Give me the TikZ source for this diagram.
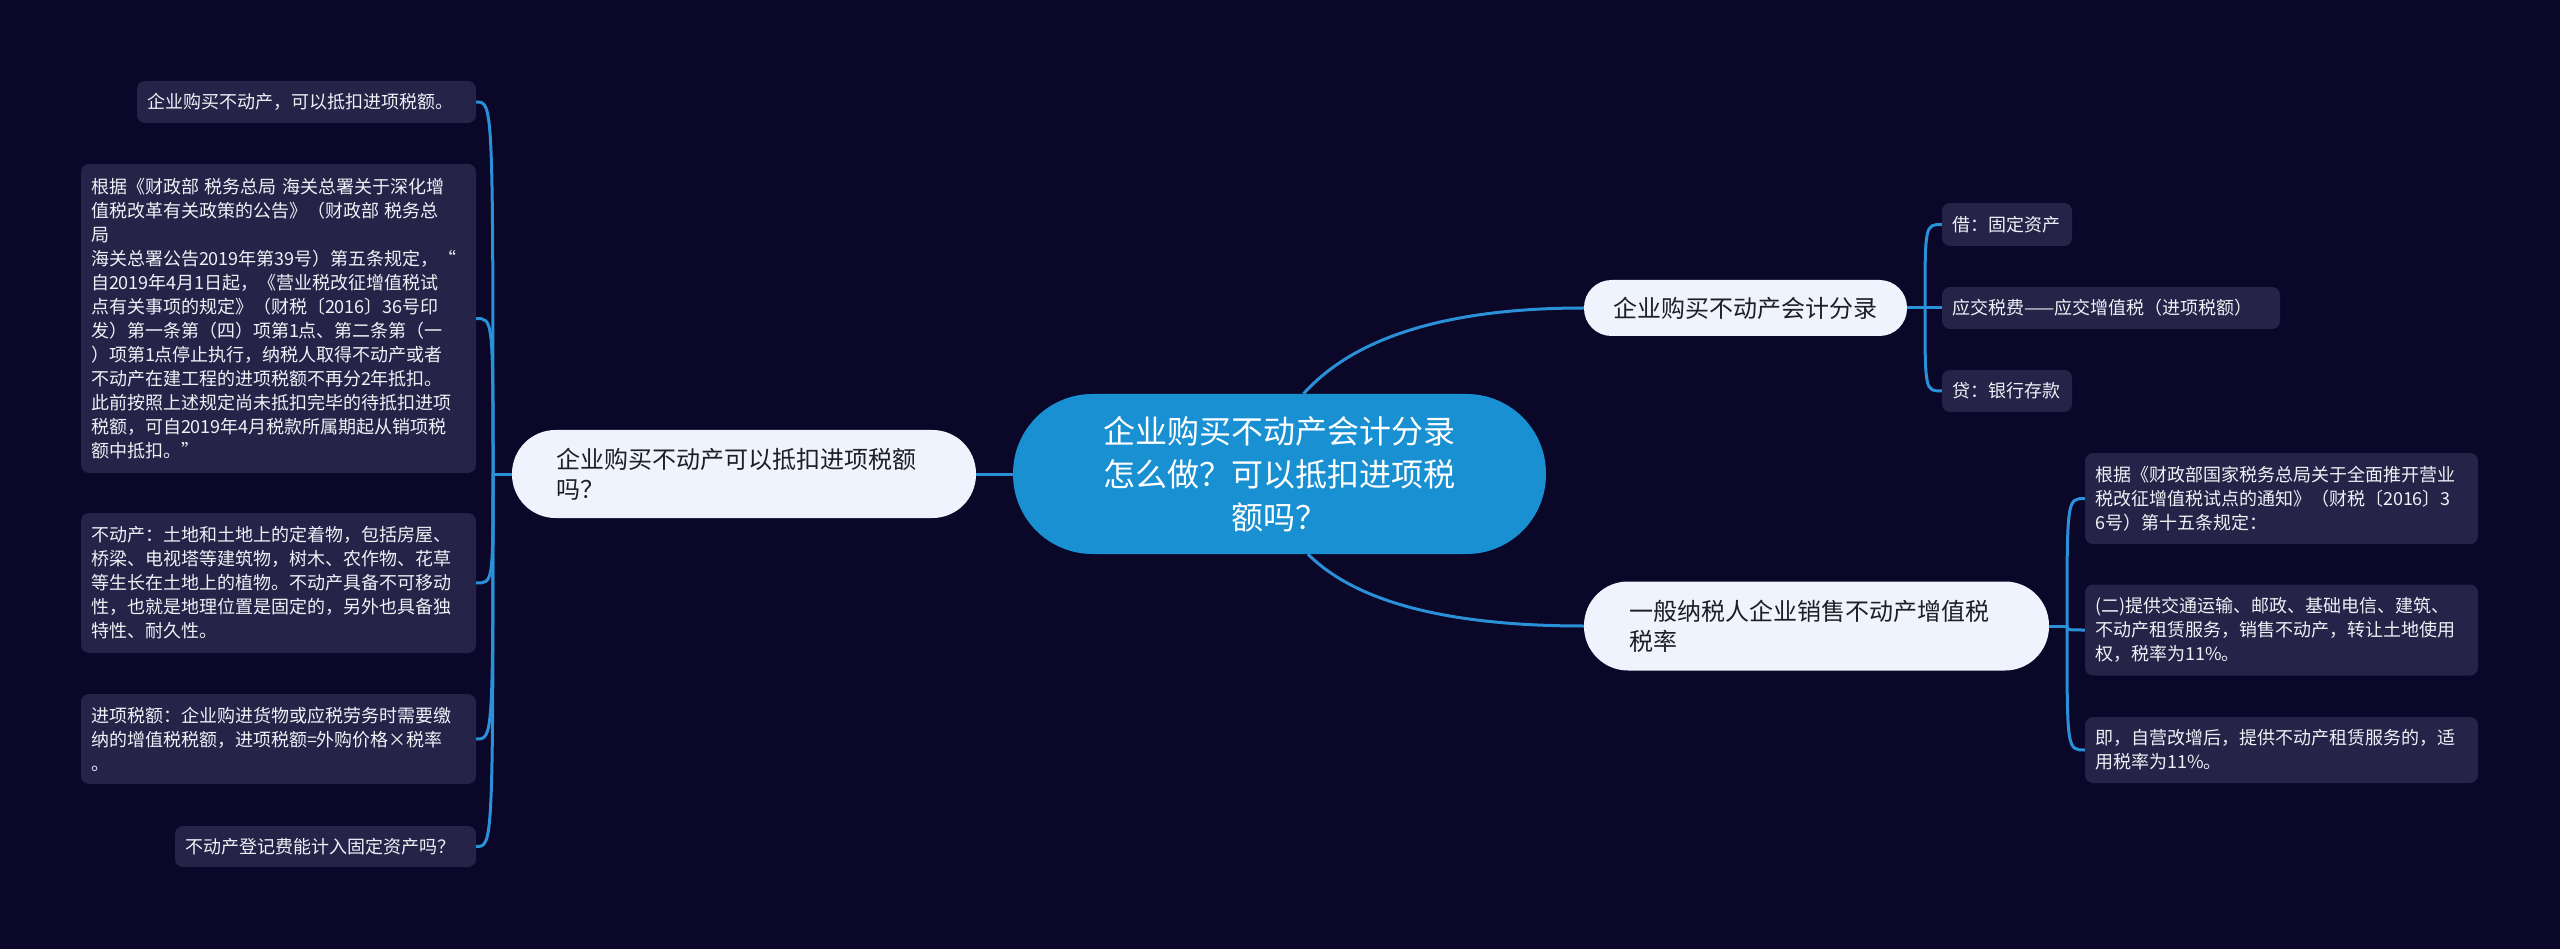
\documentclass[tikz,border=0pt]{standalone}
\usepackage{fontspec}
\setmainfont{Noto Sans CJK SC}
\definecolor{bgc}{HTML}{0B0729}
\definecolor{leafc}{HTML}{262348}
\definecolor{leaftxt}{HTML}{F0F0F6}
\definecolor{brc}{HTML}{EEF3FD}
\definecolor{brtxt}{HTML}{1E1E24}
\definecolor{rootc}{HTML}{1890D2}
\definecolor{linec}{HTML}{2A90D8}
\begin{document}
\begin{tikzpicture}[x=1pt,y=-1pt,
  leaf/.style={fill=leafc, rounded corners=8pt, text=leaftxt, font=\fontsize{18}{24}\selectfont, align=left, inner xsep=10pt, inner ysep=0pt},
  branchnode/.style={fill=brc, text=brtxt, font=\fontsize{24}{30}\selectfont, inner ysep=0pt},
  rootnode/.style={fill=rootc, text=white, font=\fontsize{32}{43}\selectfont, align=center, minimum width=533pt, minimum height=160pt, rounded corners=79.5pt, inner sep=0pt},
  conn/.style={draw=linec, line width=3pt}]
\fill[bgc] (0,0) rectangle (2560,949);
\useasboundingbox (0,0) rectangle (2560,949);

% root
\node[rootnode] (root) at (1279.5,474) {企业购买不动产会计分录\\怎么做？可以抵扣进项税\\额吗？};

% branches
\node[branchnode, align=left, text width=376pt, inner xsep=44pt, minimum height=88pt, rounded corners=43.5pt] (lbr) at (744,474) {企业购买不动产可以抵扣进项税额\\吗？};
\node[branchnode, align=center, minimum width=323pt, minimum height=56pt, inner xsep=0pt, rounded corners=27.5pt] (rtop) at (1745.5,308) {企业购买不动产会计分录};
\node[branchnode, align=left, text width=375pt, inner xsep=45pt, minimum height=89pt, rounded corners=44pt] (rbot) at (1816.5,626) {一般纳税人企业销售不动产增值税\\税率};

% left leaves
\node[leaf, text width=319pt, minimum height=42pt] (l1) at (306.5,102) {企业购买不动产，可以抵扣进项税额。};
\node[leaf, text width=375pt, minimum height=309pt] (l2) at (278.5,318.5) {根据《财政部~税务总局~海关总署关于深化增\\值税改革有关政策的公告》（财政部~税务总\\局\\海关总署公告2019年第39号）第五条规定，“\\自2019年4月1日起，《营业税改征增值税试\\点有关事项的规定》（财税〔2016〕36号印\\发）第一条第（四）项第1点、第二条第（一\\）项第1点停止执行，纳税人取得不动产或者\\不动产在建工程的进项税额不再分2年抵扣。\\此前按照上述规定尚未抵扣完毕的待抵扣进项\\税额，可自2019年4月税款所属期起从销项税\\额中抵扣。”};
\node[leaf, text width=375pt, minimum height=140pt] (l3) at (278.5,583) {不动产：土地和土地上的定着物，包括房屋、\\桥梁、电视塔等建筑物，树木、农作物、花草\\等生长在土地上的植物。不动产具备不可移动\\性，也就是地理位置是固定的，另外也具备独\\特性、耐久性。};
\node[leaf, text width=375pt, minimum height=90pt] (l4) at (278.5,739) {进项税额：企业购进货物或应税劳务时需要缴\\纳的增值税税额，进项税额=外购价格×税率\\。};
\node[leaf, text width=281pt, minimum height=41pt] (l5) at (325.5,846.5) {不动产登记费能计入固定资产吗？};

% right top leaves
\node[leaf, text width=110pt, minimum height=43pt] (rt1) at (2007,224.5) {借：固定资产};
\node[leaf, text width=318pt, minimum height=42pt] (rt2) at (2111,308) {应交税费——应交增值税（进项税额）};
\node[leaf, text width=110pt, minimum height=42pt] (rt3) at (2007,391) {贷：银行存款};

% right bottom leaves
\node[leaf, text width=373pt, minimum height=91pt] (rb1) at (2281.5,498.5) {根据《财政部国家税务总局关于全面推开营业\\税改征增值税试点的通知》（财税〔2016〕3\\6号）第十五条规定：};
\node[leaf, text width=373pt, minimum height=91pt] (rb2) at (2281.5,630) {(二)提供交通运输、邮政、基础电信、建筑、\\不动产租赁服务，销售不动产，转让土地使用\\权，税率为11\%。};
\node[leaf, text width=373pt, minimum height=66pt] (rb3) at (2281.5,750) {即，自营改增后，提供不动产租赁服务的，适\\用税率为11\%。};

% hubs
\coordinate (lhub) at (493,474);
\coordinate (rthub) at (1925,308);
\coordinate (rbhub) at (2067,626);

% root connectors
\draw[conn] (root.west) -- (lbr.east);
\draw[conn] ([xshift=24pt]root.north) .. controls +(51,-57) and +(-136,0) .. (rtop.west);
\draw[conn] ([xshift=28.5pt]root.south) .. controls +(48,48) and +(-136,0) .. (rbot.west);

% left connectors
\draw[conn] (lbr.west) -- (lhub);
\foreach \n in {l1,l2,l3,l4,l5}{
  \draw[conn] (lhub) .. controls (lhub |- \n.east) and (lhub |- \n.east) .. (\n.east);
}

% right top connectors
\draw[conn] (rtop.east) -- (rt2.west);
\foreach \n in {rt1,rt3}{
  \draw[conn] (rthub) .. controls (rthub |- \n.west) and (rthub |- \n.west) .. (\n.west);
}

% right bottom connectors
\draw[conn] (rbot.east) -- (rbhub);
\foreach \n in {rb1,rb2,rb3}{
  \draw[conn] (rbhub) .. controls (rbhub |- \n.west) and (rbhub |- \n.west) .. (\n.west);
}
\end{tikzpicture}
\end{document}
